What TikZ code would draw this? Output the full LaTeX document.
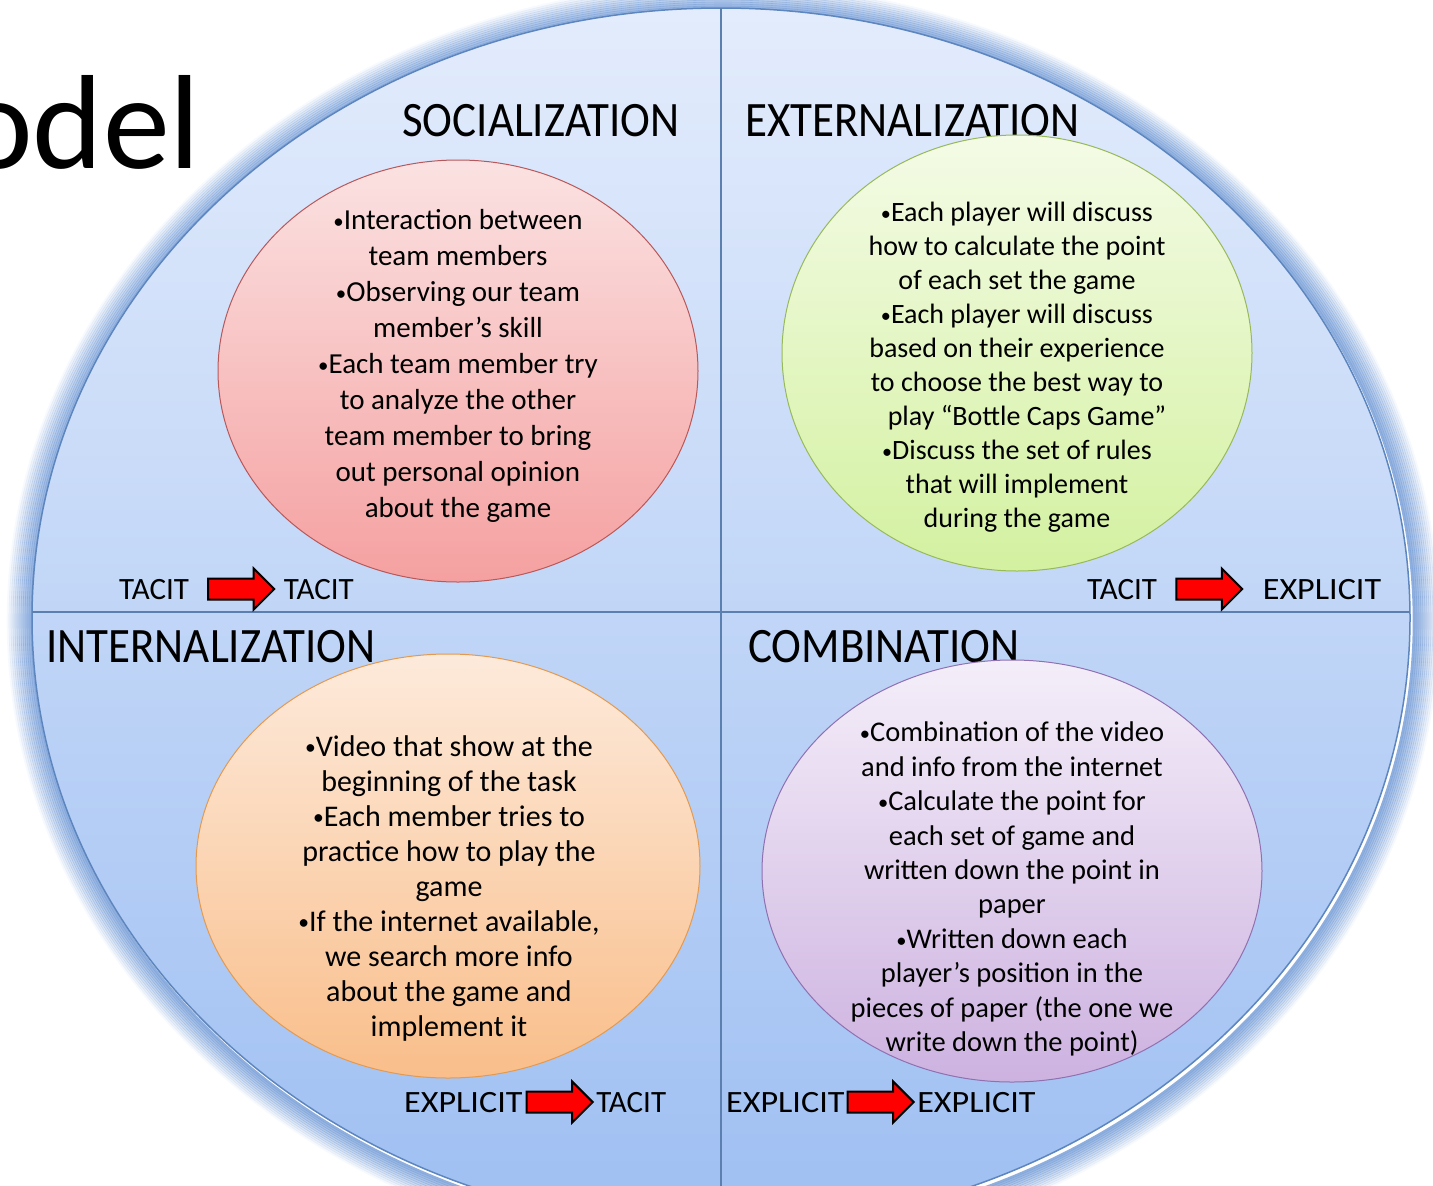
\documentclass[tikz,border=0pt]{standalone}
\usepackage{fontspec}
\usepackage{graphicx}
\setmainfont{Carlito}
\usetikzlibrary{positioning,shapes.geometric,shapes.arrows}

\definecolor{ringblue}{HTML}{7FA4DA}
\definecolor{edgeblue}{HTML}{5E86BE}
\definecolor{lineblue}{HTML}{5B80B0}
\definecolor{skytop}{HTML}{E3ECFC}
\definecolor{skybot}{HTML}{9EBFF2}
\definecolor{socline}{HTML}{B8585A}
\definecolor{soctop}{HTML}{FBE2E2}
\definecolor{socbot}{HTML}{F5A0A0}
\definecolor{extline}{HTML}{98B95A}
\definecolor{exttop}{HTML}{F4FBE6}
\definecolor{extbot}{HTML}{D3F1A0}
\definecolor{intline}{HTML}{E39A50}
\definecolor{inttop}{HTML}{FDEADB}
\definecolor{intbot}{HTML}{F9BE8A}
\definecolor{comline}{HTML}{8F70B0}
\definecolor{comtop}{HTML}{F4EEF9}
\definecolor{combot}{HTML}{CDB2E0}

\newcommand\dotmark{\raisebox{0.04em}{\scalebox{0.72}{•}}}
\newcommand\tallword[1]{\scalebox{1}[1.1]{#1}}
\newcommand\wideword[1]{\scalebox{1.1}[1]{#1}}

\begin{document}
\begin{tikzpicture}[x=1pt, y=-1pt,
  quad/.style={font=\fontsize{45}{45}\selectfont, inner sep=0pt},
  lab/.style={font=\fontsize{31}{31}\selectfont, inner sep=0pt},
  body/.style 2 args={font=\fontsize{#1}{#2}\selectfont, align=center, inner sep=0pt},
  blob/.style={ellipse, line width=1pt, inner sep=0pt},
  fatarrow/.style={single arrow, draw=black, line width=2pt, fill=red,
    inner xsep=0pt, inner ysep=9.5pt, minimum height=66pt,
    single arrow head extend=10pt, single arrow head indent=0pt},
  divider/.style={draw=lineblue, line width=1.5pt}]
\useasboundingbox (0,0) rectangle (1433,1186);
\clip (0,0) rectangle (1433,1186);

% big circle with its soft rim
\foreach \r in {1,...,13} {
  \pgfmathsetmacro\fade{0.95*(1-\r/14)}
  \draw [line width=2.6pt, color=ringblue, opacity=\fade] (723,621) ellipse [x radius=689+2*\r, y radius=610+2*\r];
}
\fill [top color=skytop, bottom color=skybot] (721,618) ellipse [x radius=689, y radius=610];
\draw [line width=1.5pt, color=edgeblue] (721,618) ellipse [x radius=689, y radius=610];
\draw [divider] (721,8) -- (721,1186);
\draw [divider] (32,612) -- (1410,612);

\node [anchor=base west, font=\fontsize{134}{134}\selectfont, inner sep=0pt] (title) at (-38,168) {odel};

% quadrant names
\node [quad, anchor=base east] (socname) at (680,136) {\tallword{SOCIALIZATION}};
\node [quad, anchor=base west] (extname) at (745,136) {\tallword{EXTERNALIZATION}};
\node [quad, anchor=base west] (intname) at (46,662) {\tallword{INTERNALIZATION}};
\node [quad, anchor=base west] (comname) at (748,662) {\tallword{COMBINATION}};

% circles
\node [blob, draw=socline, top color=soctop, bottom color=socbot,
  minimum width=480pt, minimum height=422pt] (soc) at (458,371) {};
\node [blob, draw=extline, top color=exttop, bottom color=extbot,
  minimum width=470pt, minimum height=436pt] (ext) at (1017,353) {};
\node [blob, draw=intline, top color=inttop, bottom color=intbot,
  minimum width=504pt, minimum height=424pt] (int) at (448,866) {};
\node [blob, draw=comline, top color=comtop, bottom color=combot,
  minimum width=500pt, minimum height=422pt] (com) at (1012,871) {};

\node [body={29}{36}] (soctext) at ([yshift=5pt]soc.center) {%
  \dotmark Interaction between\\ team members\\ \dotmark Observing our team\\ member’s skill\\
  \dotmark Each team member try\\ to analyze the other\\ team member to bring\\
  out personal opinion\\ about the game};
\node [body={28}{34}] (exttext) at ([yshift=-14pt]ext.center) {%
  \dotmark Each player will discuss\\ how to calculate the point\\ of each set the game\\
  \dotmark Each player will discuss\\ based on their experience\\ to choose the best way to\\
  \hspace*{20pt}play “Bottle Caps Game”\\ \dotmark Discuss the set of rules\\ that will implement\\
  during the game};
\node [body={30}{35}] (inttext) at ([xshift=1pt,yshift=-22pt]int.center) {%
  \dotmark Video that show at the\\ beginning of the task\\ \dotmark Each member tries to\\
  practice how to play the\\ game\\ \dotmark If the internet available,\\ we search more info\\
  about the game and\\ implement it};
\node [body={28.5}{34.4}] (comtext) at ([yshift=-18pt]com.center) {%
  \dotmark Combination of the video\\ and info from the internet\\ \dotmark Calculate the point for\\
  each set of game and\\ written down the point in\\ paper\\ \dotmark Written down each\\
  player’s position in the\\ pieces of paper (the one we\\ write down the point)};

% conversions
\node [lab, anchor=base west] (tt1) at (119,599) {TACIT};
\node [fatarrow, right=18pt of tt1] (ttarrow) {};
\node [lab, right=8pt of ttarrow] (tt2) {TACIT};

\node [lab, anchor=base west] (te1) at (1087,599) {TACIT};
\node [fatarrow, right=18pt of te1] (tearrow) {};
\node [lab, right=19pt of tearrow] (te2) {\wideword{EXPLICIT}};

\node [lab, anchor=base west] (et1) at (404,1112) {\wideword{EXPLICIT}};
\node [fatarrow, right=3pt of et1] (etarrow) {};
\node [lab, right=2pt of etarrow] (et2) {TACIT};

\node [lab, anchor=base west] (ee1) at (726,1112) {\wideword{EXPLICIT}};
\node [fatarrow, right=2pt of ee1] (eearrow) {};
\node [lab, right=2pt of eearrow] (ee2) {\wideword{EXPLICIT}};
\end{tikzpicture}
\end{document}
